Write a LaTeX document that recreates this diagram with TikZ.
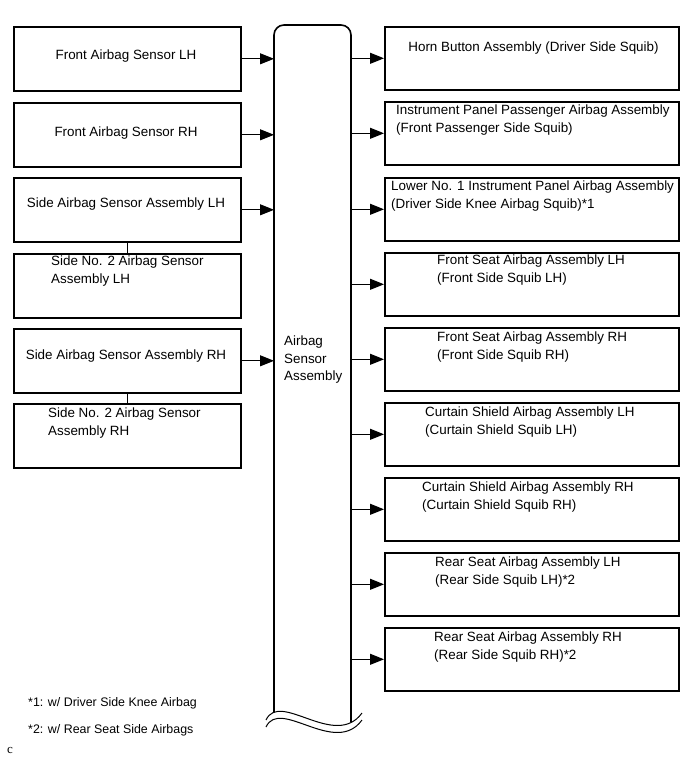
\documentclass[tikz,border=0pt]{standalone}
\usepackage{fontspec}
\setmainfont{Liberation Sans}
\newfontfamily\smallserif{Liberation Serif}
\usetikzlibrary{arrows.meta,positioning}

\begin{document}
\begin{tikzpicture}[
        x=1pt, y=-1pt,
        font=\fontsize{13.4}{17.5}\selectfont,
        box/.style={draw, line width=1.6pt, minimum width=227pt, minimum height=64pt, inner sep=0pt, anchor=north west},
        rbox/.style={box, minimum width=294pt, minimum height=63pt},
        txt/.style={inner sep=0pt, anchor=west, align=left},
        ctxt/.style={inner sep=0pt, anchor=center},
        note/.style={inner sep=0pt, anchor=west, font=\fontsize{12.4}{15}\selectfont},
        arr/.style={-{Triangle[length=14pt, width=11pt]}, line width=1pt},
        link/.style={line width=1.2pt},
        bus/.style={line width=1.6pt, rounded corners=10pt}
    ]
    \useasboundingbox (0,0) rectangle (691,757);

    % sensors
    \node[box] (frontLH) at (13,26) {};
    \node[box] (frontRH) at (13,102) {};
    \node[box] (sideLH) at (13,177) {};
    \node[box] (side2LH) at (13,253) {};
    \node[box] (sideRH) at (13,328) {};
    \node[box] (side2RH) at (13,403) {};

    \node[ctxt] (frontLHtxt) at (126,56) {Front Airbag Sensor LH};
    \node[ctxt] (frontRHtxt) at (126,133) {Front Airbag Sensor RH};
    \node[ctxt] (sideLHtxt) at (126,204) {Side Airbag Sensor Assembly LH};
    \node[txt] (side2LHtxt) at (51,271) {Side No. 2 Airbag Sensor\\Assembly LH};
    \node[ctxt] (sideRHtxt) at (126,356) {Side Airbag Sensor Assembly RH};
    \node[txt] (side2RHtxt) at (48,423) {Side No. 2 Airbag Sensor\\Assembly RH};

    \draw[link] (sideLH.south) -- (side2LH.north);
    \draw[link] (sideRH.south) -- (side2RH.north);

    % airbag sensor assembly
    \coordinate (busL) at (274,0);
    \coordinate (busR) at (351,0);
    \draw[bus] (274,712) -- (274,25) -- (351,25) -- (351,722);
    \draw[line width=1pt] (266,720) .. controls (280,690) and (335,750) .. (362,713);
    \draw[line width=1pt] (266,727) .. controls (280,697) and (335,757) .. (362,720);
    \node[txt] (ecu) at (284,360) {Airbag\\Sensor\\Assembly};

    % squibs
    \node[rbox] (horn) at (384,26) {};
    \node[rbox] (passenger) at (384,101) {};
    \node[rbox] (knee) at (384,177) {};
    \node[rbox] (seatLH) at (384,252) {};
    \node[rbox] (seatRH) at (384,327) {};
    \node[rbox] (curtainLH) at (384,402) {};
    \node[rbox] (curtainRH) at (384,477) {};
    \node[rbox] (rearLH) at (384,552) {};
    \node[rbox] (rearRH) at (384,627) {};

    \node[ctxt] (horntxt) at (533.5,48) {Horn Button Assembly (Driver Side Squib)};
    \node[txt] (passengertxt) at (396,120) {Instrument Panel Passenger Airbag Assembly\\(Front Passenger Side Squib)};
    \node[txt] (kneetxt) at (391,196) {Lower No. 1 Instrument Panel Airbag Assembly\\(Driver Side Knee Airbag Squib)*1};
    \node[txt] (seatLHtxt) at (437,270) {Front Seat Airbag Assembly LH\\(Front Side Squib LH)};
    \node[txt] (seatRHtxt) at (437,347) {Front Seat Airbag Assembly RH\\(Front Side Squib RH)};
    \node[txt] (curtainLHtxt) at (425,422) {Curtain Shield Airbag Assembly LH\\(Curtain Shield Squib LH)};
    \node[txt] (curtainRHtxt) at (422,497) {Curtain Shield Airbag Assembly RH\\(Curtain Shield Squib RH)};
    \node[txt] (rearLHtxt) at (435,572) {Rear Seat Airbag Assembly LH\\(Rear Side Squib LH)*2};
    \node[txt] (rearRHtxt) at (434,647) {Rear Seat Airbag Assembly RH\\(Rear Side Squib RH)*2};

    % arrows in
    \draw[arr] (frontLH.east) -- (frontLH.east -| busL);
    \draw[arr] (frontRH.east) -- (frontRH.east -| busL);
    \draw[arr] (sideLH.east) -- (sideLH.east -| busL);
    \draw[arr] (sideRH.east) -- (sideRH.east -| busL);

    % arrows out
    \draw[arr] (horn.west -| busR) -- (horn.west);
    \draw[arr] (passenger.west -| busR) -- (passenger.west);
    \draw[arr] (knee.west -| busR) -- (knee.west);
    \draw[arr] (seatLH.west -| busR) -- (seatLH.west);
    \draw[arr] (seatRH.west -| busR) -- (seatRH.west);
    \draw[arr] (curtainLH.west -| busR) -- (curtainLH.west);
    \draw[arr] (curtainRH.west -| busR) -- (curtainRH.west);
    \draw[arr] (rearLH.west -| busR) -- (rearLH.west);
    \draw[arr] (rearRH.west -| busR) -- (rearRH.west);

    % notes
    \node[note] (note1) at (28,703) {*1: w/ Driver Side Knee Airbag};
    \node[note] (note2) at (28,730) {*2: w/ Rear Seat Side Airbags};
    \node[inner sep=0pt, anchor=west, font=\smallserif\fontsize{13}{13}\selectfont] (code) at (7,750) {c};
\end{tikzpicture}
\end{document}
